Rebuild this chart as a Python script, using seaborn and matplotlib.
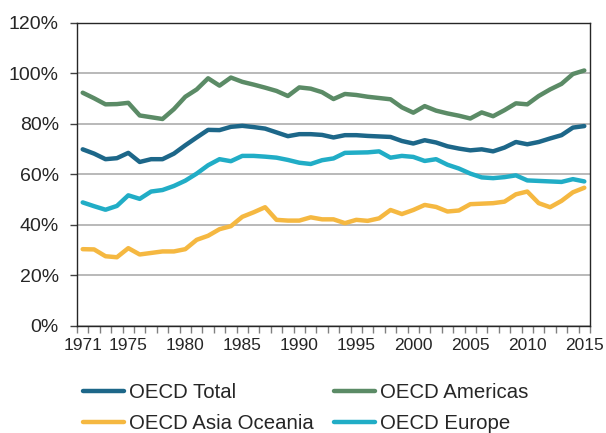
import matplotlib as mpl
mpl.use("Agg")

import matplotlib.pyplot as plt
import seaborn as sns
import pandas as pd
from matplotlib.ticker import FuncFormatter, FixedLocator

sns.set_style("white")
plt.rcParams["font.family"] = ["Liberation Sans", "DejaVu Sans"]

years = list(range(1971, 2016))

oecd_total = [
    69.9, 68.2, 66.0, 66.4, 68.5, 64.9, 66.0, 66.0, 68.2, 71.5,
    74.6, 77.6, 77.5, 78.8, 79.2, 78.7, 78.1, 76.6, 75.1, 75.9,
    75.9, 75.6, 74.6, 75.5, 75.5, 75.2, 75.0, 74.8, 73.2, 72.2,
    73.5, 72.6, 71.1, 70.2, 69.5, 69.9, 69.1, 70.6, 72.8, 71.9,
    72.8, 74.2, 75.5, 78.5, 79.1,
]
oecd_americas = [
    92.3, 90.1, 87.7, 87.8, 88.3, 83.3, 82.6, 81.9, 85.8, 90.7,
    93.6, 98.0, 95.1, 98.3, 96.6, 95.5, 94.3, 93.0, 91.0, 94.4,
    93.9, 92.5, 89.8, 91.8, 91.4, 90.7, 90.2, 89.7, 86.5, 84.4,
    87.0, 85.2, 84.1, 83.2, 82.1, 84.5, 83.0, 85.4, 88.1, 87.7,
    91.0, 93.6, 95.8, 99.7, 101.1,
]
oecd_asia_oceania = [
    30.4, 30.3, 27.6, 27.2, 30.8, 28.3, 28.9, 29.5, 29.5, 30.4,
    34.1, 35.7, 38.3, 39.5, 43.2, 45.0, 47.0, 42.0, 41.7, 41.7,
    43.0, 42.2, 42.2, 40.7, 42.0, 41.6, 42.6, 45.9, 44.3, 45.9,
    47.9, 47.1, 45.3, 45.7, 48.2, 48.4, 48.6, 49.2, 52.1, 53.2,
    48.6, 47.0, 49.5, 52.9, 54.7,
]
oecd_europe = [
    48.9, 47.4, 46.0, 47.5, 51.7, 50.3, 53.2, 53.8, 55.4, 57.5,
    60.3, 63.6, 66.0, 65.2, 67.3, 67.3, 67.0, 66.6, 65.7, 64.6,
    64.1, 65.6, 66.3, 68.5, 68.6, 68.7, 69.1, 66.6, 67.3, 66.9,
    65.3, 66.0, 63.8, 62.3, 60.3, 58.8, 58.5, 58.9, 59.6, 57.6,
    57.4, 57.2, 57.0, 58.1, 57.2,
]

series_names = ["OECD Total", "OECD Americas", "OECD Asia Oceania", "OECD Europe"]
series_values = [oecd_total, oecd_americas, oecd_asia_oceania, oecd_europe]
colors = ["#1d6789", "#5b8b66", "#f5b841", "#21adc6"]

df = pd.concat([
    pd.DataFrame({"year": years, "share": [v / 100 for v in vals], "region": name})
    for name, vals in zip(series_names, series_values)
])

fig = plt.figure(figsize=(6.06, 4.33), dpi=100)
ax = fig.add_axes([77 / 606, 1 - 326 / 433, (590 - 77) / 606, (326 - 22.7) / 433])

ax = sns.lineplot(
    ax=ax,
    x="year",
    y="share",
    hue="region",
    palette=colors,
    data=df,
    linewidth=3.2,
    solid_capstyle="round",
)

ax.set_xlim(1970.5, 2015.5)
ax.set_ylim(0, 1.2)
ax.set_xlabel("")
ax.set_ylabel("")

ax.set_yticks([0, 0.2, 0.4, 0.6, 0.8, 1.0, 1.2])
ax.yaxis.set_major_formatter(FuncFormatter(lambda v, _: f"{v * 100:.0f}%"))
ax.yaxis.grid(True, color="#a6a6a6", linewidth=1.1)
ax.set_axisbelow(True)

ax.set_xticks([1971, 1975, 1980, 1985, 1990, 1995, 2000, 2005, 2010, 2015])
ax.xaxis.set_minor_locator(FixedLocator([y + 0.5 for y in range(1970, 2016)]))
ax.tick_params(axis="x", which="major", length=0, labelsize=12.5, pad=9)
ax.tick_params(axis="x", which="minor", length=5, width=1, color="#808080", direction="out", bottom=True)
ax.tick_params(axis="y", which="major", length=5, width=1, color="#404040", direction="out", left=True, labelsize=14, pad=8)

for side in ["left", "right", "top", "bottom"]:
    ax.spines[side].set_visible(True)
    ax.spines[side].set_color("#262626")
    ax.spines[side].set_linewidth(1.0)

# legend fills column-wise, so reorder to get Total/Americas on the first row
handles, labels = ax.get_legend_handles_labels()
order = [0, 2, 1, 3]
ax.legend(
    handles=[handles[i] for i in order],
    labels=[labels[i] for i in order],
    ncol=2,
    frameon=False,
    loc="upper left",
    bbox_to_anchor=(83 / 606, 1 - 383 / 433),
    bbox_transform=fig.transFigure,
    borderpad=0,
    borderaxespad=0,
    handlelength=2.0,
    handletextpad=0.25,
    columnspacing=1.0,
    labelspacing=0.6,
    fontsize=14.7,
)

fig.savefig("out.png", dpi=100)
